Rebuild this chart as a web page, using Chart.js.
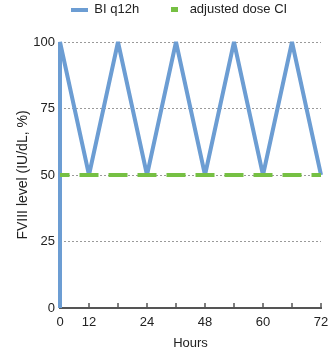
<!DOCTYPE html>
<html>
<head>
<meta charset="utf-8">
<script src="https://cdn.jsdelivr.net/npm/chart.js@4/dist/chart.umd.min.js"></script>
<style>
  html, body { margin: 0; padding: 0; background: #fff; }
  #wrap { width: 328px; height: 352px; }
</style>
</head>
<body>
<div id="wrap"><canvas id="chart"></canvas></div>
<script>
// x positions are tick slots; tickLabels says what each slot is called
const tickLabels = ['0', '12', '', '24', '', '48', '', '60', '', '72'];
const biX = [0, 0, 1, 2, 3, 4, 5, 6, 7, 8, 9];
const biY = [0, 100, 50, 100, 50, 100, 50, 100, 50, 100, 50];
const ciX = [0, 9];
const ciY = [50, 50];
const yTicks = [0, 25, 50, 75, 100];

const blue = '#6c9dd3';
const green = '#76c043';
const ink = '#222';
const font = { family: "'Liberation Sans', Arial, sans-serif", size: 13 };

// small canvases used as legend markers
function marker(w, h, color) {
    const c = document.createElement('canvas');
    c.width = w; c.height = h;
    const g = c.getContext('2d');
    g.fillStyle = color;
    g.fillRect(0, 0, w, h);
    return c;
}
const blueMark = marker(17, 4, blue);
const greenMark = marker(7, 5, green);

// tick marks pointing up into the plot
const upTicks = {
    id: 'upTicks',
    beforeDatasetsDraw(chart) {
        const xs = chart.scales.x;
        const ctx = chart.ctx;
        const y0 = chart.chartArea.bottom;
        ctx.save();
        ctx.strokeStyle = '#555';
        ctx.lineWidth = 1.5;
        xs.ticks.forEach(t => {
            const px = xs.getPixelForValue(t.value);
            ctx.beginPath();
            ctx.moveTo(px, y0);
            ctx.lineTo(px, y0 - 5);
            ctx.stroke();
        });
        ctx.restore();
    }
};

// legend height / horizontal shift
const legendFit = {
    id: 'legendFit',
    beforeInit(chart) {
        const fit = chart.legend.fit;
        chart.legend.fit = function () {
            fit.call(this);
            this.height = 66;
            this.lineWidths[0] -= 37;
        };
    }
};

const ctx = document.getElementById('chart').getContext('2d');
new Chart(ctx, {
    type: 'line',
    data: {
        datasets: [
            {
                label: 'BI q12h',
                data: biX.map((x, i) => ({ x: x, y: biY[i] })),
                borderColor: blue,
                backgroundColor: blue,
                borderWidth: 4,
                borderJoinStyle: 'bevel',
                pointRadius: 0,
                tension: 0,
                fill: false,
                clip: 6,
                order: 1
            },
            {
                label: 'adjusted dose CI',
                data: ciX.map((x, i) => ({ x: x, y: ciY[i] })),
                borderColor: green,
                backgroundColor: green,
                borderWidth: 4,
                borderDash: [19, 10],
                borderDashOffset: 9.5,
                borderCapStyle: 'butt',
                pointRadius: 0,
                fill: false,
                order: 0
            }
        ]
    },
    options: {
        responsive: true,
        maintainAspectRatio: false,
        animation: false,
        devicePixelRatio: 1,
        layout: { padding: { top: -24, right: 7, left: 0, bottom: 0 } },
        plugins: {
            legend: {
                position: 'top',
                labels: {
                    usePointStyle: true,
                    pointStyleWidth: 17,
                    padding: 27,
                    color: ink,
                    font: font,
                    generateLabels: chart => chart.data.datasets.map((ds, i) => ({
                        text: ds.label,
                        pointStyle: i === 0 ? blueMark : greenMark,
                        fillStyle: ds.borderColor,
                        strokeStyle: ds.borderColor,
                        lineWidth: 0,
                        fontColor: ink,
                        hidden: false,
                        datasetIndex: i
                    }))
                }
            },
            tooltip: { enabled: false }
        },
        scales: {
            x: {
                type: 'linear',
                min: 0,
                max: 9,
                afterFit: s => { s.height = 44; s.paddingLeft = 0; s.paddingRight = 0; },
                afterBuildTicks: s => { s.ticks = tickLabels.map((_, i) => ({ value: i })); },
                ticks: {
                    autoSkip: false,
                    maxRotation: 0,
                    padding: 7,
                    color: ink,
                    font: font,
                    callback: v => tickLabels[v]
                },
                grid: { display: true, drawOnChartArea: false, drawTicks: false },
                border: { display: true, color: '#555', width: 2 },
                title: {
                    display: true,
                    text: 'Hours',
                    color: ink,
                    font: font,
                    padding: { top: 0, bottom: 1 }
                }
            },
            y: {
                min: 0,
                max: 100,
                afterFit: s => { s.width = 60; },
                afterBuildTicks: s => { s.ticks = yTicks.map(v => ({ value: v })); },
                ticks: { padding: 5, color: ink, font: font },
                grid: {
                    drawTicks: false,
                    color: '#9a9a9a',
                    lineWidth: 1
                },
                border: { display: false, dash: [2, 2] },
                title: {
                    display: true,
                    text: 'FVIII level (IU/dL, %)',
                    color: ink,
                    font: { family: font.family, size: 14 },
                    padding: { top: 15, bottom: 0 }
                }
            }
        }
    },
    plugins: [upTicks, legendFit]
});
</script>
</body>
</html>
